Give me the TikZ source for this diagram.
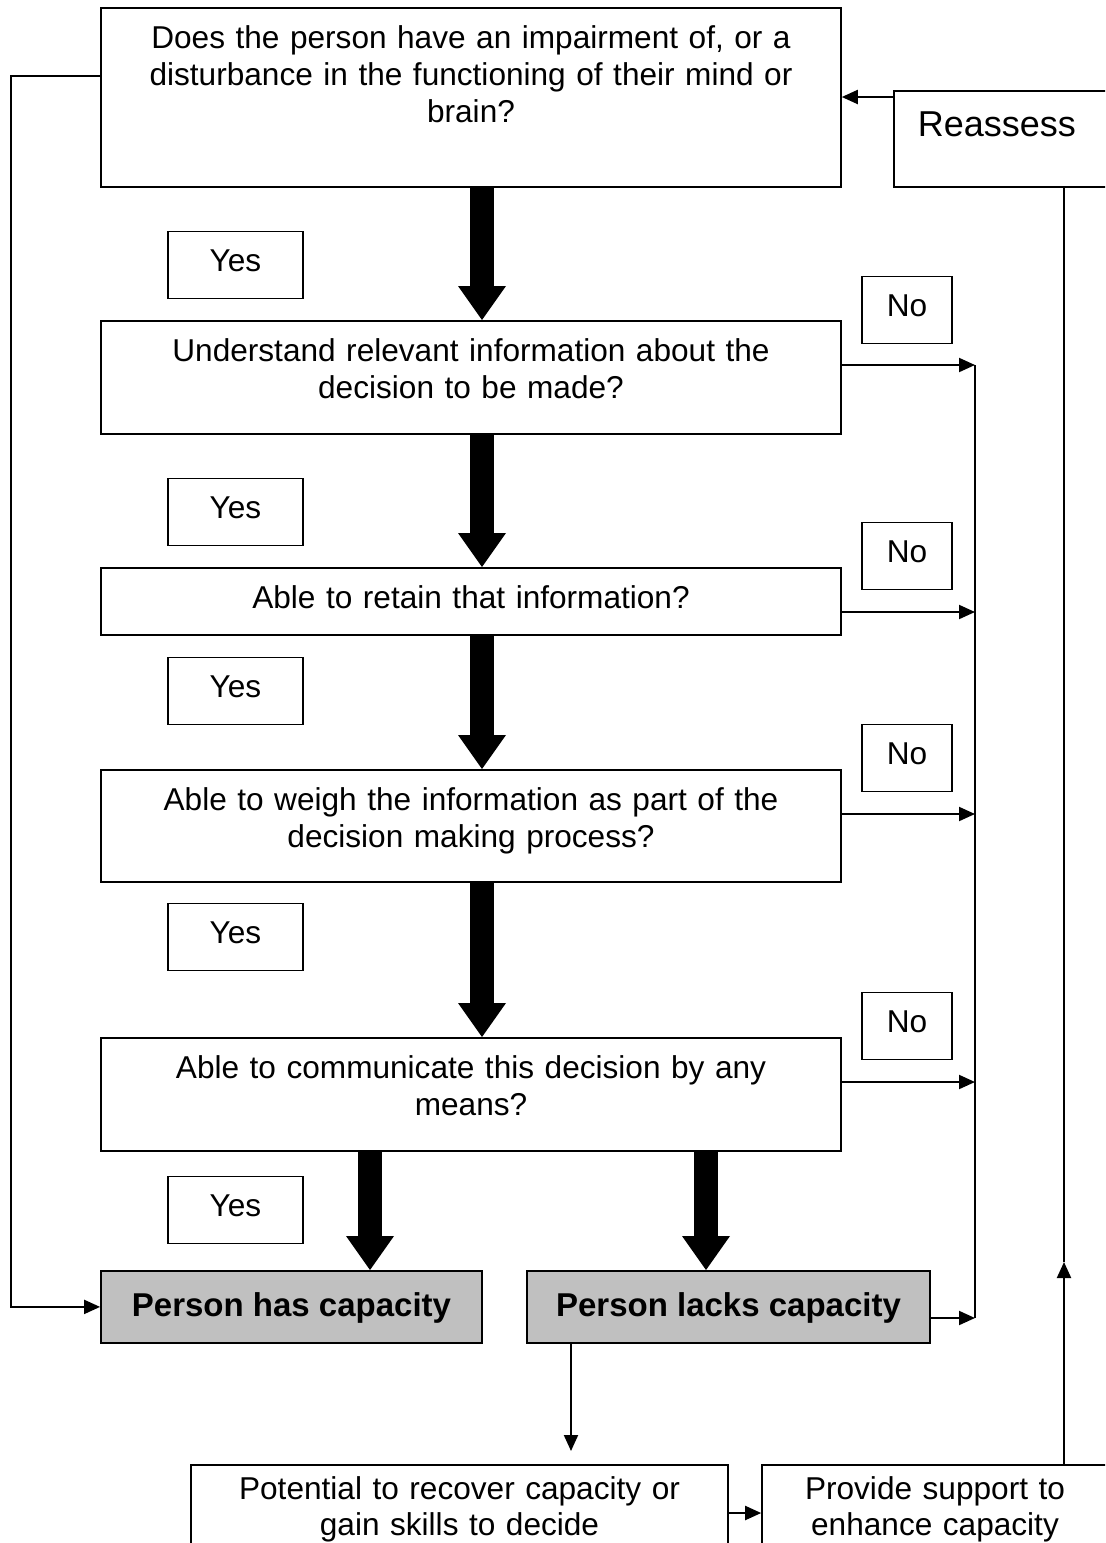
\documentclass[tikz,border=0pt]{standalone}
\usepackage{fontspec}
\setmainfont{Liberation Sans}
\usetikzlibrary{arrows.meta}
\definecolor{resultgray}{RGB}{192,192,192}
\newcommand{\flowfont}{\fontsize{15.8}{18.5}\selectfont}
\tikzset{
  plainbox/.style={draw, line width=0.8pt, inner sep=0pt, anchor=north, font=\flowfont},
  qbox/.style={plainbox, text width=370pt, align=center, text height=20.5pt},
  yesno/.style={plainbox, line width=0.7pt, text height=20pt, text depth=13.5pt},
  result/.style={plainbox, fill=resultgray, line width=0.9pt, text height=23pt, text depth=13pt,
    font=\fontsize{16.5}{19}\selectfont\bfseries},
  conn/.style={line width=1pt, -{Triangle[length=8pt,width=7pt]}},
  fat/.style={line width=12pt, -{Triangle[length=17pt,width=24pt,line width=0pt]}},
}
\begin{document}
\begin{tikzpicture}[x=0.5pt, y=-0.5pt]
\clip (0,0) rectangle (1105,1543);
% questions
\node[qbox, text depth=69pt] (q1) at (471,7) {Does the person have an impairment of, or a\\ disturbance in the functioning of their mind or\\ brain?};
\node[qbox, text depth=36pt] (q2) at (471,320) {Understand relevant information about the\\ decision to be made?};
\node[qbox, text depth=13pt] (q3) at (471,567) {Able to retain that information?};
\node[qbox, text depth=35.5pt] (q4) at (471,769) {Able to weigh the information as part of the\\ decision making process?};
\node[qbox, text depth=36pt] (q5) at (471,1037) {Able to communicate this decision by any\\ means?};
% yes / no labels
\node[yesno, minimum width=67.5pt] (yes1) at (235.5,231) {Yes};
\node[yesno, minimum width=67.5pt] (yes2) at (235.5,478) {Yes};
\node[yesno, minimum width=67.5pt] (yes3) at (235.5,657) {Yes};
\node[yesno, minimum width=67.5pt] (yes4) at (235.5,903) {Yes};
\node[yesno, minimum width=67.5pt] (yes5) at (235.5,1176) {Yes};
\node[yesno, minimum width=45pt] (no1) at (907,276) {No};
\node[yesno, minimum width=45pt] (no2) at (907,522) {No};
\node[yesno, minimum width=45pt] (no3) at (907,724) {No};
\node[yesno, minimum width=45pt] (no4) at (907,992) {No};
% outcomes
\node[result, minimum width=190.5pt] (has) at (291.5,1270) {Person has capacity};
\node[result, minimum width=201.5pt] (lacks) at (728.5,1270) {Person lacks capacity};
\node[plainbox, anchor=north west, text width=92pt, inner xsep=12pt, text height=23pt, text depth=25pt,
  font=\fontsize{18}{21}\selectfont] (reassess) at (893,90) {Reassess};
\node[plainbox, text width=268.5pt, align=center, text height=17.5pt, text depth=30.5pt,
  font=\fontsize{15.8}{18}\selectfont] (recover) at (459.5,1464) {Potential to recover capacity or\\ gain skills to decide};
\node[plainbox, text width=173pt, align=center, text height=17.5pt, text depth=30.5pt,
  font=\fontsize{15.8}{18}\selectfont] (support) at (935,1464) {Provide support to\\ enhance capacity};
% helper points
\coordinate (spine) at (482,0);
\coordinate (hasx) at (370,0);
\coordinate (lackx) at (706,0);
\coordinate (dropx) at (571,0);
\coordinate (upx) at (1064,0);
\coordinate (uptip) at (1064,1262);
\coordinate (bustop) at (975,365);
\coordinate (busbot) at (975,1318);
% main yes path
\foreach \a/\b in {q1/q2,q2/q3,q3/q4,q4/q5}
  \draw[fat] (\a.south -| spine) -- (\b.north -| spine);
\draw[fat] (q5.south -| hasx) -- (has.north -| hasx);
\draw[fat] (q5.south -| lackx) -- (lacks.north -| lackx);
% no path
\draw[line width=1pt] (bustop) -- (busbot);
\foreach \q in {q2,q3,q4,q5}
  \draw[conn] ([yshift=-22.5pt]\q.north east) -- ([yshift=-22.5pt]\q.north east -| bustop);
\draw[conn] ([yshift=-24pt]lacks.north east) -- ([yshift=-24pt]lacks.north east -| busbot);
\draw[conn] ([yshift=10.75pt]q1.west) -- ++(-89,0) |- (has.west);
% reassessment loop
\draw[conn] (lacks.south -| dropx) -- ([yshift=6.5pt]recover.north -| dropx);
\draw[conn] ([yshift=-24.5pt]recover.north east) -- ([yshift=-24.5pt]recover.north east -| support.west);
\draw[conn] (support.north -| upx) -- (uptip);
\draw[line width=1pt] (uptip) -- (reassess.south -| upx);
\draw[conn] ([yshift=-3.5pt]reassess.north west) -- ([yshift=-3.5pt]reassess.north west -| q1.east);
\end{tikzpicture}
\end{document}
